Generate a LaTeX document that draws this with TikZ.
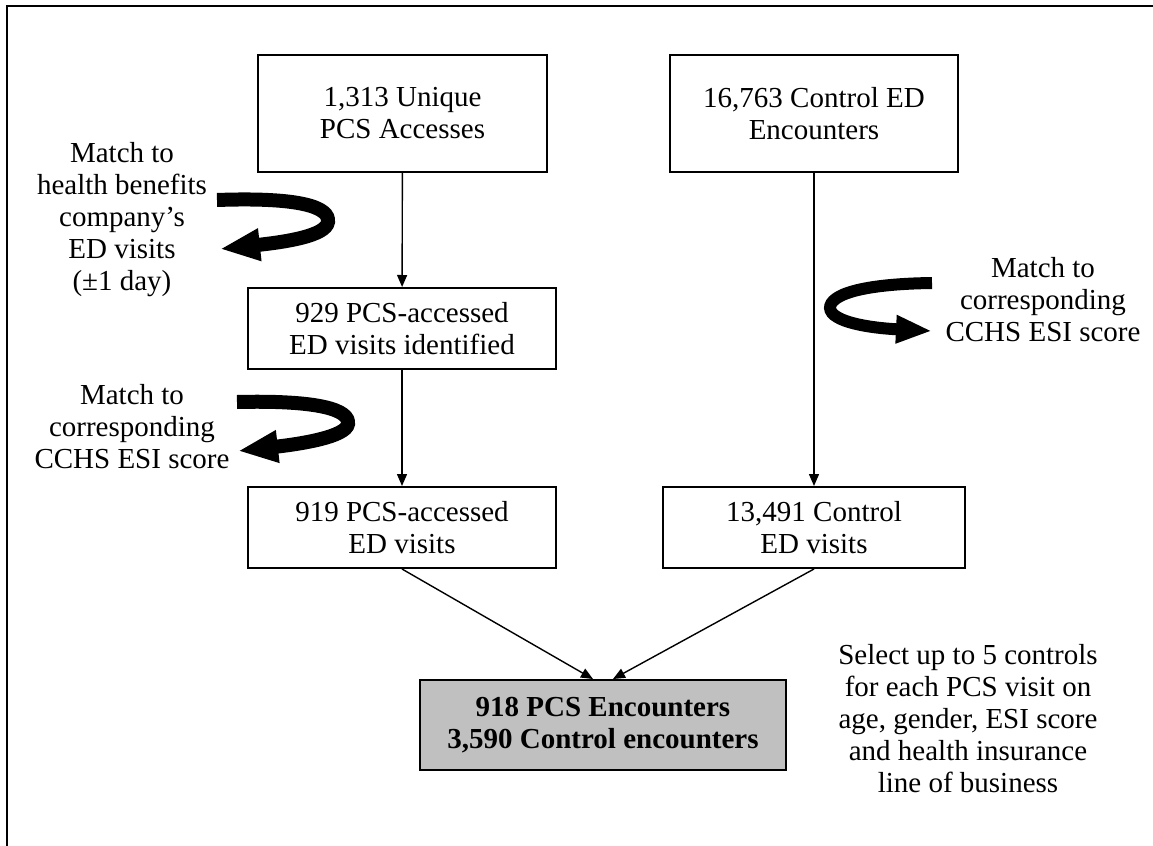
\documentclass[tikz,border=0pt]{standalone}
\usepackage{fontspec}
\setmainfont{Liberation Serif}
\usetikzlibrary{arrows.meta}
\definecolor{boxgray}{RGB}{192,192,192}

\begin{document}
\begin{tikzpicture}[x=0.5pt,y=-0.5pt,
	stage/.style={shape=rectangle,draw=black,line width=1pt,align=center,inner sep=0pt,font=\fontsize{14.5}{16}\selectfont},
	remark/.style={align=center,font=\fontsize{14.5}{16}\selectfont},
	flow/.style={-{Triangle[length=6pt,width=5pt]},line width=0.7pt},
	bendarrow/.style={line width=7pt,-{Triangle[length=20pt,width=15pt]}}]
	\useasboundingbox (0,0) rectangle (1153,846);
	
	% frame
	\draw[line width=1pt] (7,846) -- (7,6) -- (1153,6);
	
	\node[stage,minimum width=144.5pt,minimum height=58.5pt] (A) at (402.5,113.5) {1,313 Unique\\PCS Accesses};
	\node[stage,minimum width=144pt,minimum height=58.5pt] (B) at (814,113.5) {16,763 Control ED\\Encounters};
	\node[stage,minimum width=154pt,minimum height=40.5pt] (C) at (402,328.5) {929 PCS-accessed\\ED visits identified};
	\node[stage,minimum width=154pt,minimum height=40.5pt] (E) at (402,527.5) {919 PCS-accessed\\ED visits};
	\node[stage,minimum width=151pt,minimum height=40.5pt] (D) at (814,527.5) {13,491 Control\\ED visits};
	\node[stage,fill=boxgray,minimum width=183pt,minimum height=45pt,font=\fontsize{14.5}{16}\selectfont\bfseries] (F) at (603,725) {918 PCS Encounters\\3,590 Control encounters};
	
	\node[remark] (m1) at (122,220) {Match to\\health benefits\\company’s\\ED visits\\(±1 day)};
	\node[remark] (m2) at (132,427) {Match to\\corresponding\\CCHS ESI score};
	\node[remark] (m3) at (1043,300) {Match to\\corresponding\\CCHS ESI score};
	\node[remark] (sel) at (968,719) {Select up to 5 controls\\for each PCS visit on\\age, gender, ESI score\\and health insurance\\line of business};
	
	\draw[flow] (A) -- (C);
	\draw[flow] (C) -- (E);
	\draw[flow] (B) -- (D);
	\draw[flow] (E.south) -- ([xshift=-5pt]F.north);
	\draw[flow] (D.south) -- ([xshift=5pt]F.north);
	
	% turning arrows
	\coordinate (t1) at (217,200);
	\coordinate (h1) at (220,249);
	\coordinate (t2) at (237,402);
	\coordinate (h2) at (238,451);
	\coordinate (t3) at (932,283);
	\coordinate (h3) at (932,331);
	\draw[bendarrow] (t1) .. controls (300,197) and (330,207) .. (328,222) .. controls (326,236) and (285,242) .. (h1);
	\draw[bendarrow] (t2) .. controls (320,400) and (350,410) .. (348,424) .. controls (346,437) and (300,444) .. (h2);
	\draw[bendarrow,line width=6pt,-{Triangle[length=18pt,width=13pt]}] (t3) .. controls (860,284) and (830,295) .. (830,308) .. controls (831,322) and (870,328) .. (h3);
\end{tikzpicture}
\end{document}
